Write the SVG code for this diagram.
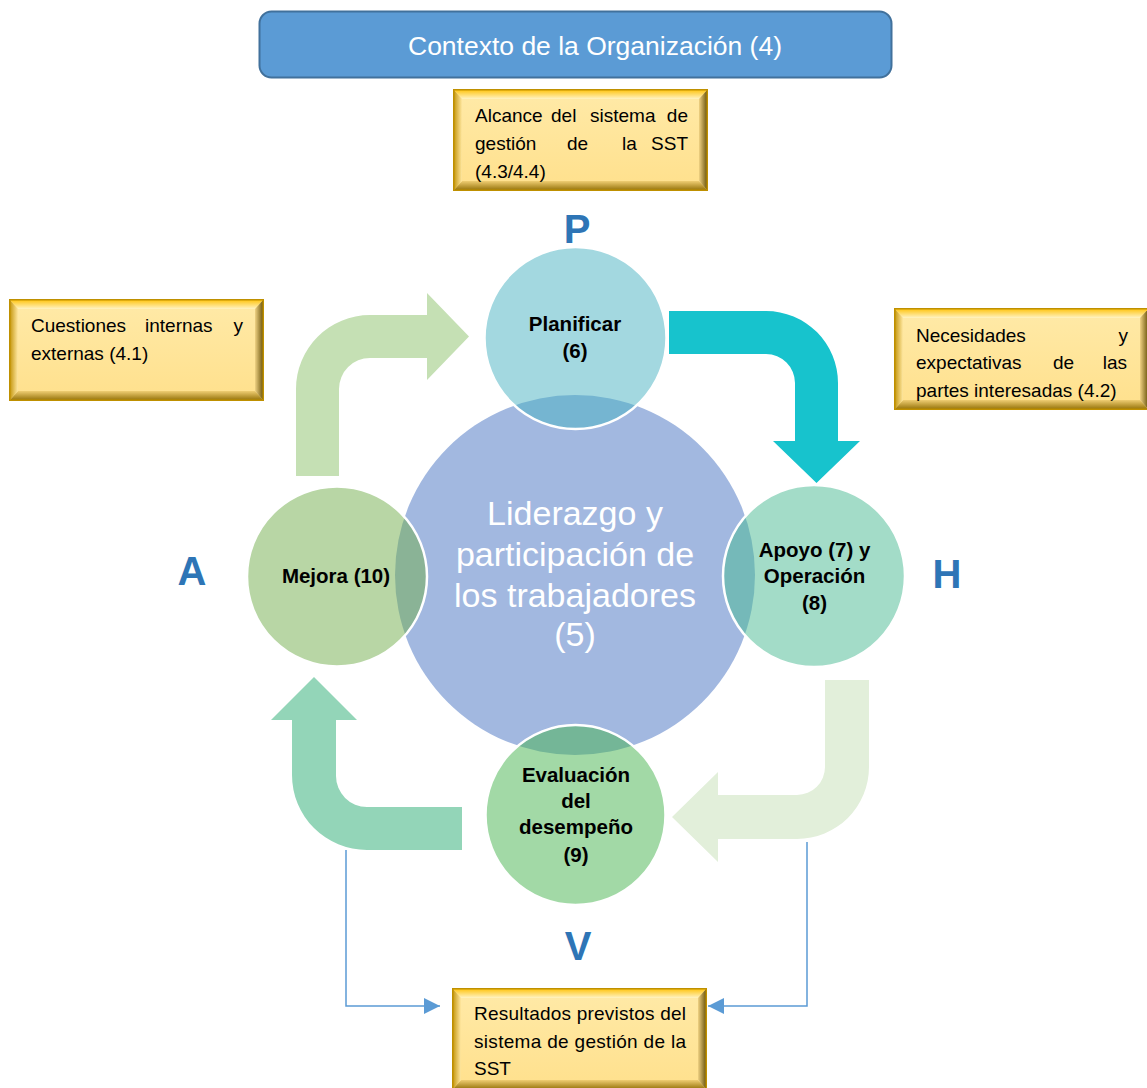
<svg xmlns="http://www.w3.org/2000/svg" xmlns:xlink="http://www.w3.org/1999/xlink" width="1147" height="1088" viewBox="0 0 1147 1088">
<style>
.box{font-family:"Liberation Sans",Arial,sans-serif;font-size:19px;fill:#000}
.lbl{font-family:"Liberation Sans",Arial,sans-serif;font-size:20.5px;font-weight:bold;fill:#000;text-anchor:middle}
.pdca{font-family:"Liberation Sans",Arial,sans-serif;font-size:40px;font-weight:bold;fill:#2E75B6;text-anchor:middle}
.center{font-family:"Liberation Sans",Arial,sans-serif;font-size:34px;fill:#fff;text-anchor:middle}
.small{fill-opacity:0.5;stroke:#fff;stroke-width:2.5}
.conn{fill:none;stroke:#5B9BD5;stroke-width:1.5}
</style>
<defs>
<linearGradient id="gC" x1="0" y1="0" x2="0" y2="1"><stop offset="0" stop-color="#FFEAA8"/><stop offset="1" stop-color="#FFE08C"/></linearGradient>
<linearGradient id="gT" x1="0" y1="0" x2="0" y2="1"><stop offset="0" stop-color="#FFC000"/><stop offset="1" stop-color="#FFF3C4"/></linearGradient>
<linearGradient id="gB" x1="0" y1="0" x2="0" y2="1"><stop offset="0" stop-color="#EFCD72"/><stop offset="1" stop-color="#8E6B00"/></linearGradient>
<linearGradient id="gL" x1="0" y1="0" x2="1" y2="0"><stop offset="0" stop-color="#BF8F00"/><stop offset="1" stop-color="#FFE7A0"/></linearGradient>
<linearGradient id="gR" x1="0" y1="0" x2="1" y2="0"><stop offset="0" stop-color="#F0D283"/><stop offset="1" stop-color="#5E4800"/></linearGradient>
<g id="gold">
<rect x="0" y="0" width="255" height="102" fill="url(#gC)"/>
<polygon points="0,0 255,0 246,10 9,10" fill="url(#gT)"/>
<polygon points="0,102 255,102 246,92 9,92" fill="url(#gB)"/>
<polygon points="0,0 9,10 9,92 0,102" fill="url(#gL)"/>
<polygon points="255,0 246,10 246,92 255,102" fill="url(#gR)"/>
<rect x="0.75" y="0.75" width="253.5" height="100.5" fill="none" stroke="#BF9000" stroke-width="1.5"/>
</g>
<marker id="ah" viewBox="0 0 16 16" refX="16" refY="8" markerWidth="16" markerHeight="16" markerUnits="userSpaceOnUse" orient="auto">
<path d="M0,0 L16,8 L0,16 Z" fill="#5B9BD5"/>
</marker>
</defs>

<g id="banner">
<rect x="259.5" y="11.5" width="632" height="66" rx="12" ry="12" fill="#5B9BD5" stroke="#41719C" stroke-width="2"/>
<text x="595" y="55" font-family="Liberation Sans, Arial, sans-serif" font-size="25" fill="#fff" text-anchor="middle" textLength="374" lengthAdjust="spacingAndGlyphs">Contexto de la Organización (4)</text>
</g>

<g id="cycle-arrows">
<path id="arrow-A-P" d="M296,476 L296,389 A74,74 0 0 1 370,315 L427,315 L427,293 L469,336.5 L427,380 L427,358 L370,358 A31,31 0 0 0 339,389 L339,476 Z" fill="#C5E0B4"/>
<path id="arrow-P-H" d="M669,311 L766,311 A72,72 0 0 1 838,383 L838,441 L860,441 L816.5,483 L773,441 L795,441 L795,383 A29,29 0 0 0 766,354 L669,354 Z" fill="#17C3CD"/>
<path id="arrow-H-V" d="M825,680 L869,680 L869,767 A72,72 0 0 1 797,839 L718,839 L718,862 L672,817 L718,772 L718,795 L797,795 A28,28 0 0 0 825,767 Z" fill="#E2EFDA"/>
<path id="arrow-V-A" d="M462,807 L367,807 A31,31 0 0 1 336,776 L336,720 L357,720 L314,677 L271,720 L292,720 L292,775 A75,75 0 0 0 367,850 L462,850 Z" fill="#93D5B8"/>
</g>

<g id="liderazgo">
<circle cx="575" cy="575" r="180" fill="#A2B8E0"/>
<text class="center" x="575" y="525">Liderazgo y</text>
<text class="center" x="575" y="566">participación de</text>
<text class="center" x="575" y="607">los trabajadores</text>
<text class="center" x="575" y="646">(5)</text>
</g>

<g id="planificar">
<circle class="small" cx="575.5" cy="338" r="91" fill="#47B1C1"/>
<text class="lbl" x="575" y="331">Planificar</text>
<text class="lbl" x="575" y="358">(6)</text>
</g>

<g id="apoyo">
<circle class="small" cx="814" cy="576" r="91" fill="#47B991"/>
<text class="lbl" x="814.5" y="557">Apoyo (7) y</text>
<text class="lbl" x="814.5" y="583">Operación</text>
<text class="lbl" x="814.5" y="610">(8)</text>
</g>

<g id="mejora">
<circle class="small" cx="337" cy="576.5" r="90" fill="#71AD4B"/>
<text class="lbl" x="336" y="583">Mejora (10)</text>
</g>

<g id="evaluacion">
<circle class="small" cx="575.5" cy="815" r="90" fill="#45B34D"/>
<text class="lbl" x="576" y="782">Evaluación</text>
<text class="lbl" x="576" y="808">del</text>
<text class="lbl" x="576" y="834">desempeño</text>
<text class="lbl" x="576" y="862">(9)</text>
</g>

<g id="letters">
<text class="pdca" x="577" y="243">P</text>
<text class="pdca" x="947" y="588">H</text>
<text class="pdca" x="192" y="585">A</text>
<text class="pdca" x="578" y="960">V</text>
</g>

<g id="alcance">
<use xlink:href="#gold" x="453" y="89"/>
<text class="box" y="122"><tspan x="475">Alcance</tspan><tspan x="551">del</tspan><tspan x="590">sistema</tspan><tspan x="688" text-anchor="end">de</tspan></text>
<text class="box" y="150"><tspan x="475">gestión</tspan><tspan x="567">de</tspan><tspan x="622">la</tspan><tspan x="688" text-anchor="end">SST</tspan></text>
<text class="box" x="475" y="178">(4.3/4.4)</text>
</g>

<g id="cuestiones">
<use xlink:href="#gold" x="9" y="299"/>
<text class="box" y="332"><tspan x="31">Cuestiones</tspan><tspan x="145">internas</tspan><tspan x="243" text-anchor="end">y</tspan></text>
<text class="box" x="31" y="360">externas (4.1)</text>
</g>

<g id="necesidades">
<use xlink:href="#gold" x="894" y="308"/>
<text class="box" y="342"><tspan x="916">Necesidades</tspan><tspan x="1128" text-anchor="end">y</tspan></text>
<text class="box" y="369"><tspan x="916">expectativas</tspan><tspan x="1053">de</tspan><tspan x="1127" text-anchor="end">las</tspan></text>
<text class="box" x="916" y="397">partes interesadas (4.2)</text>
</g>

<g id="resultados">
<use xlink:href="#gold" x="452" y="988"/>
<text class="box" x="474" y="1020" textLength="212" lengthAdjust="spacing">Resultados previstos del</text>
<text class="box" x="474" y="1048" textLength="212" lengthAdjust="spacing">sistema de gestión de la</text>
<text class="box" x="474" y="1075">SST</text>
</g>

<g id="connectors">
<path class="conn" d="M346,850 V1006 H440" marker-end="url(#ah)"/>
<path class="conn" d="M807,842 V1006 H708" marker-end="url(#ah)"/>
</g>
</svg>
